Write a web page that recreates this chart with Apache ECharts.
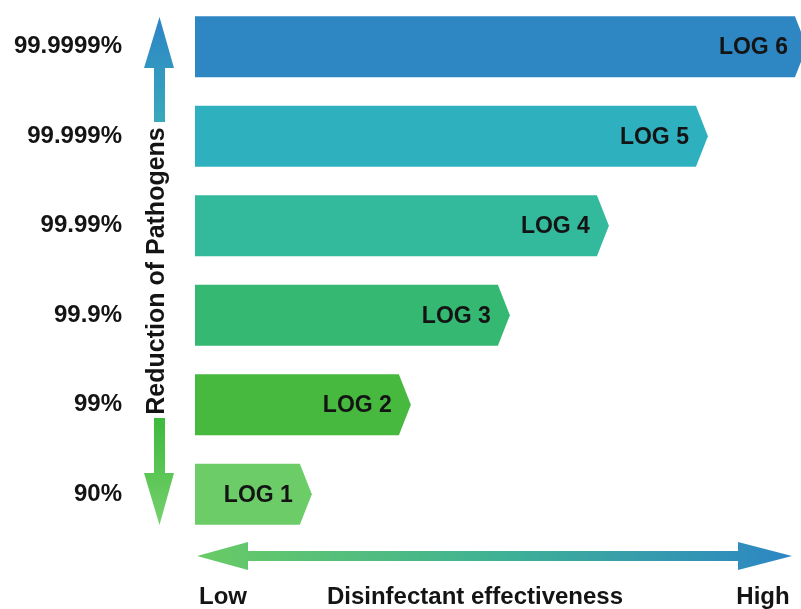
<!DOCTYPE html>
<html>
<head>
<meta charset="utf-8">
<script src="https://cdn.jsdelivr.net/npm/echarts@6/dist/echarts.min.js"></script>
<style>
  html, body { margin: 0; padding: 0; background: #ffffff; }
  #chart { width: 801px; height: 609px; }
</style>
</head>
<body>
<div id="chart"></div>
<script>
// Reduction levels (bottom to top) and their log values
const categories = ['90%', '99%', '99.9%', '99.99%', '99.999%', '99.9999%'];
const logValues = [1, 2, 3, 4, 5, 6];
const barLabels = ['LOG 1', 'LOG 2', 'LOG 3', 'LOG 4', 'LOG 5', 'LOG 6'];
const barColors = ['#6ccd68', '#46b93e', '#35b872', '#33b99c', '#2fb0bf', '#2e87c3'];

// Axis text
const yAxisTitle = 'Reduction of Pathogens';
const xAxisTitle = 'Disinfectant effectiveness';
const xLowText = 'Low';
const xHighText = 'High';

const FONT = '"Liberation Sans", Arial, sans-serif';
const X_MIN = -0.18;   // bars start a little left of zero
const X_MAX = 5.94;
const TIP = 12;        // arrow-tip length in px
const TEXT_COLOR = '#141414';

const chart = echarts.init(document.getElementById('chart'), null, { renderer: 'canvas' });

function renderBar(params, api) {
  const v = api.value(0);
  const cat = api.value(1);
  const start = api.coord([X_MIN, cat]);
  const end = api.coord([v, cat]);
  const h = api.size([0, 1])[1] * 0.68;
  const x0 = start[0], xt = end[0], xr = xt - TIP, yc = start[1];
  return {
    type: 'group',
    children: [
      {
        type: 'polygon',
        shape: { points: [[x0, yc - h / 2], [xr, yc - h / 2], [xt, yc], [xr, yc + h / 2], [x0, yc + h / 2]] },
        style: { fill: barColors[params.dataIndex] }
      },
      {
        type: 'text',
        x: xr - 7,
        y: yc + 1,
        style: {
          text: barLabels[params.dataIndex],
          fill: TEXT_COLOR,
          font: 'bold 23px ' + FONT,
          align: 'right',
          verticalAlign: 'middle'
        }
      }
    ]
  };
}

const upArrow = {
  type: 'polygon',
  shape: { points: [[159.5, 17], [174, 68], [165, 68], [165, 122], [154, 122], [154, 68], [144, 68]] },
  style: {
    fill: new echarts.graphic.LinearGradient(0, 0, 0, 1, [
      { offset: 0, color: '#2c84c6' },
      { offset: 1, color: '#3aa9bb' }
    ])
  }
};

const downArrow = {
  type: 'polygon',
  shape: { points: [[154, 418], [165, 418], [165, 473], [174, 473], [159.5, 525], [144, 473], [154, 473]] },
  style: {
    fill: new echarts.graphic.LinearGradient(0, 0, 0, 1, [
      { offset: 0, color: '#3dba3c' },
      { offset: 1, color: '#76d06d' }
    ])
  }
};

const effectArrow = {
  type: 'polygon',
  shape: {
    points: [[197, 556], [248, 542], [248, 551], [738, 551], [738, 542], [792, 556],
             [738, 570], [738, 561], [248, 561], [248, 570]]
  },
  style: {
    fill: new echarts.graphic.LinearGradient(0, 0, 1, 0, [
      { offset: 0, color: '#69cb64' },
      { offset: 0.5, color: '#3fb294' },
      { offset: 1, color: '#2d86c4' }
    ])
  }
};

function label(text, x, y, rotation, size) {
  return {
    type: 'text',
    x: x, y: y,
    rotation: rotation || 0,
    style: {
      text: text,
      fill: TEXT_COLOR,
      font: 'bold ' + (size || 24) + 'px ' + FONT,
      align: 'center',
      verticalAlign: 'middle'
    }
  };
}

chart.setOption({
  animation: false,
  backgroundColor: '#ffffff',
  grid: { left: 195, right: 0, top: 2, height: 537 },
  xAxis: {
    type: 'value',
    min: X_MIN,
    max: X_MAX,
    show: false
  },
  yAxis: {
    type: 'category',
    data: categories,
    axisLine: { show: false },
    axisTick: { show: false },
    splitLine: { show: false },
    axisLabel: {
      margin: 73,
      color: TEXT_COLOR,
      fontSize: 24,
      fontWeight: 'bold',
      fontFamily: FONT,
      padding: [3, 0, 0, 0]
    }
  },
  series: [{
    type: 'custom',
    clip: false,
    renderItem: renderBar,
    encode: { x: 0, y: 1 },
    data: logValues.map((v, i) => [v, i])
  }],
  graphic: [
    upArrow,
    downArrow,
    effectArrow,
    label(yAxisTitle, 157, 271, Math.PI / 2, 25),
    label(xLowText, 223, 597),
    label(xAxisTitle, 475, 597),
    label(xHighText, 763, 597)
  ]
});
</script>
</body>
</html>
